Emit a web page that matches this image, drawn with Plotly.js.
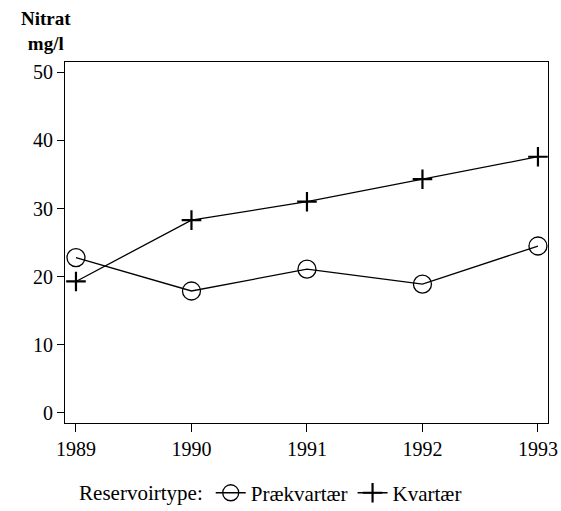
<!DOCTYPE html>
<html><head><meta charset="utf-8">
<script src="https://cdn.plot.ly/plotly-3.0.1.min.js"></script>
<style>body{margin:0;background:#fff}#c{width:561px;height:511px}</style>
</head><body><div id="c"></div>
<script>
const years = [1989, 1990, 1991, 1992, 1993];
const praekvartaer = [22.8, 17.9, 21.1, 18.9, 24.5];
const kvartaer = [19.3, 28.3, 31.0, 34.3, 37.6];
const yTicks = [0, 10, 20, 30, 40, 50];

const font = {family: 'Liberation Serif, DejaVu Serif, serif', size: 20, color: '#000'};
const legFont = {family: font.family, size: 21, color: '#000'};
const traces = [
  {x: years, y: praekvartaer, name: 'Prækvartær', mode: 'lines+markers',
   line: {color: '#000', width: 1.3},
   marker: {symbol: 'circle-open', size: 18, color: '#000', line: {width: 1.3, color: '#000'}}},
  {x: years, y: kvartaer, name: 'Kvartær', mode: 'lines+markers',
   line: {color: '#000', width: 1.3},
   marker: {symbol: 'cross-thin-open', size: 14, color: '#000', line: {width: 2.2, color: '#000'}}}
];
const layout = {
  width: 561, height: 511,
  margin: {l: 65, r: 13, t: 62, b: 88, autoexpand: false},
  paper_bgcolor: '#fff', plot_bgcolor: '#fff',
  font: font,
  showlegend: true,
  legend: {orientation: 'h', x: 0.485, xref: 'container', xanchor: 'center',
    y: 0.035, yref: 'container', yanchor: 'middle',
    title: {text: 'Reservoirtype:', side: 'left', font: legFont},
    font: legFont, itemwidth: 30, tracegroupgap: 0},
  xaxis: {range: [1988.905, 1993.087], tickvals: years, ticktext: years.map(String),
    showgrid: false, zeroline: false, showline: true, mirror: true, linecolor: '#000', linewidth: 1,
    ticks: 'outside', ticklen: 8, tickcolor: '#000', tickfont: font},
  yaxis: {range: [-1.47, 51.5], tickvals: yTicks, ticktext: yTicks.map(String),
    showgrid: false, zeroline: false, showline: true, mirror: true, linecolor: '#000', linewidth: 1,
    ticks: 'outside', ticklen: 7, tickcolor: '#000', tickfont: font},
  annotations: [{text: '<b>Nitrat<br>mg/l</b>', xref: 'paper', yref: 'paper', x: -0.04, y: 1.0,
    xanchor: 'center', yanchor: 'bottom', yshift: 6, showarrow: false,
    font: {family: font.family, size: 19, color: '#000'}, align: 'center'}]
};
Plotly.newPlot('c', traces, layout, {displayModeBar: false});
</script></body></html>
